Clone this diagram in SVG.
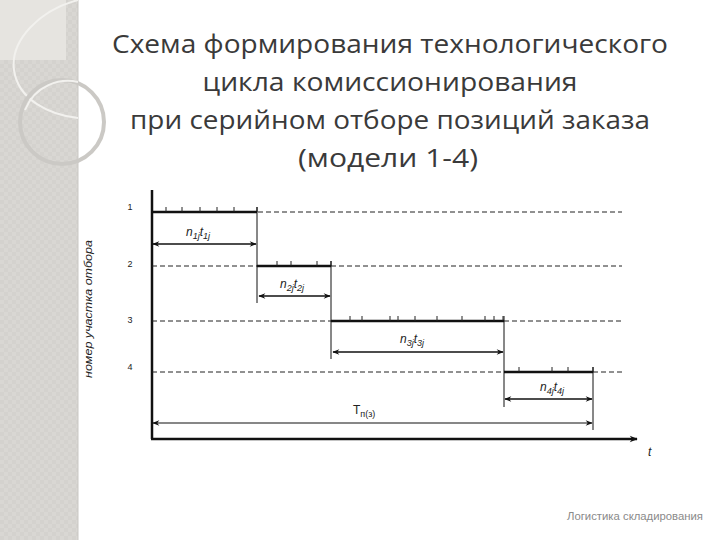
<svg xmlns="http://www.w3.org/2000/svg" width="720" height="540" viewBox="0 0 720 540">
<defs>
<style>
.title{font-family:"Open Sans","Liberation Sans",sans-serif;font-size:26px;fill:#3a3a3a;text-anchor:middle}
.lvl{font-family:"Liberation Sans",sans-serif;font-size:9px;fill:#222;text-anchor:middle}
.lab{font-family:"Liberation Sans",sans-serif;font-size:12px;font-style:italic;fill:#222}
.sub{font-size:9px}
.bold{stroke:#111;stroke-width:2.5;fill:none}
.thin{stroke:#111;stroke-width:1;fill:none}
.dash{stroke:#222;stroke-width:1;stroke-dasharray:5,3;fill:none}
.dim{stroke:#111;stroke-width:1.6;fill:none;marker-start:url(#as);marker-end:url(#ae)}
.tick{stroke:#222;stroke-width:1;fill:none}
</style>
<marker id="ae" viewBox="0 0 10 10" refX="9" refY="5" markerWidth="9" markerHeight="7" markerUnits="userSpaceOnUse" orient="auto"><path d="M0,1 L10,5 L0,9 L3,5 Z" fill="#111"/></marker>
<marker id="as" viewBox="0 0 10 10" refX="1" refY="5" markerWidth="9" markerHeight="7" markerUnits="userSpaceOnUse" orient="auto"><path d="M10,1 L0,5 L10,9 L7,5 Z" fill="#111"/></marker>
<marker id="ax" viewBox="0 0 10 10" refX="9" refY="5" markerWidth="10" markerHeight="8" markerUnits="userSpaceOnUse" orient="auto"><path d="M0,1 L10,5 L0,9 L3,5 Z" fill="#111"/></marker>
<pattern id="tex" width="8" height="8" patternUnits="userSpaceOnUse"><rect width="8" height="8" fill="#d9d7d3"/><rect width="4" height="4" fill="#d4d2ce"/><rect x="4" y="4" width="4" height="4" fill="#d4d2ce"/></pattern>
</defs>
<rect width="720" height="540" fill="#ffffff"/>
<g id="sidebar">
<rect x="0" y="0" width="78" height="540" fill="url(#tex)"/>
<rect x="0" y="0" width="66" height="60" fill="#e6e4e0"/>
<line x1="78" y1="0" x2="78" y2="540" stroke="#c9c7c3" stroke-width="1"/>
<path d="M78,0 C40,10 10,40 14,70 C18,100 50,115 78,118" fill="none" stroke="#f2f1ee" stroke-width="2"/>
<circle cx="62" cy="122" r="42" fill="none" stroke="#cbc9c5" stroke-width="4"/>
<path d="M25,110 C35,85 60,78 78,82" fill="none" stroke="#f2f1ee" stroke-width="2"/>
</g>
<g id="title">
<text class="title" x="390" y="53" textLength="556" lengthAdjust="spacingAndGlyphs">Схема формирования технологического</text>
<text class="title" x="390" y="91" textLength="375" lengthAdjust="spacingAndGlyphs">цикла комиссионирования</text>
<text class="title" x="390" y="129" textLength="520" lengthAdjust="spacingAndGlyphs">при серийном отборе позиций заказа</text>
<text class="title" x="388" y="167" textLength="180" lengthAdjust="spacingAndGlyphs">(модели 1-4)</text>
</g>
<g id="axes">
<line class="bold" x1="152" y1="190" x2="152" y2="439"/>
<line class="bold" x1="151" y1="439" x2="637" y2="439" marker-end="url(#ax)"/>
<text x="92" y="309" text-anchor="middle" transform="rotate(-90 92 309)" textLength="138" lengthAdjust="spacingAndGlyphs" style="font-family:'Liberation Sans',sans-serif;font-size:11px;font-style:italic;fill:#222">номер участка отбора</text>
<text class="lab" x="648" y="456">t</text>
</g>
<g id="levels">
<text class="lvl" x="130" y="210">1</text>
<text class="lvl" x="130" y="267">2</text>
<text class="lvl" x="130" y="323">3</text>
<text class="lvl" x="130" y="370">4</text>
<line class="dash" x1="258" y1="212" x2="622" y2="212"/>
<line class="dash" x1="152" y1="266" x2="257" y2="266"/>
<line class="dash" x1="331" y1="266" x2="622" y2="266"/>
<line class="dash" x1="152" y1="321" x2="332" y2="321"/>
<line class="dash" x1="504" y1="321" x2="622" y2="321"/>
<line class="dash" x1="152" y1="372" x2="504" y2="372"/>
<line class="dash" x1="593" y1="372" x2="622" y2="372"/>
</g>
<g id="stage1">
<line class="bold" x1="152" y1="212" x2="257" y2="212"/>
<path class="tick" d="M166,212V207M182,212V207M200,212V207M217,212V207M234,212V207M257,212V207"/>
<line class="thin" x1="257" y1="207" x2="257" y2="303"/>
<line class="dim" x1="153" y1="244" x2="256" y2="244"/>
<text class="lab" x="186" y="236">n<tspan class="sub" dy="3">1j</tspan><tspan dy="-3">t</tspan><tspan class="sub" dy="3">1j</tspan></text>
</g>
<g id="stage2">
<line class="bold" x1="257" y1="266" x2="331" y2="266"/>
<path class="tick" d="M277,266V261M291,266V261M317,266V261M331,266V261"/>
<line class="thin" x1="331" y1="261" x2="331" y2="359"/>
<line class="dim" x1="259" y1="296" x2="330" y2="296"/>
<text class="lab" x="280" y="288">n<tspan class="sub" dy="3">2j</tspan><tspan dy="-3">t</tspan><tspan class="sub" dy="3">2j</tspan></text>
</g>
<g id="stage3">
<line class="bold" x1="331" y1="321" x2="504" y2="321"/>
<path class="tick" d="M350,321V316M362,321V316M390,321V316M398,321V316M415,321V316M437,321V316M462,321V316M485,321V316M494,321V316M503,321V316"/>
<line class="thin" x1="504" y1="316" x2="504" y2="407"/>
<line class="dim" x1="333" y1="352" x2="503" y2="352"/>
<text class="lab" x="400" y="343">n<tspan class="sub" dy="3">3j</tspan><tspan dy="-3">t</tspan><tspan class="sub" dy="3">3j</tspan></text>
</g>
<g id="stage4">
<line class="bold" x1="504" y1="372" x2="593" y2="372"/>
<path class="tick" d="M519,372V367M552,372V367M568,372V367M593,372V367"/>
<line class="thin" x1="593" y1="367" x2="593" y2="430"/>
<line class="dim" x1="505" y1="399" x2="592" y2="399"/>
<text class="lab" x="540" y="391">n<tspan class="sub" dy="3">4j</tspan><tspan dy="-3">t</tspan><tspan class="sub" dy="3">4j</tspan></text>
</g>
<g id="total">
<line class="dim" style="stroke-width:1.2" x1="153" y1="423" x2="592" y2="423"/>
<text x="353" y="414" style="font-family:'Liberation Sans',sans-serif;font-size:12px;fill:#222">Т<tspan dy="3" style="font-size:9px">п(з)</tspan></text>
</g>
<g id="footer">
<text x="635" y="520" text-anchor="middle" textLength="136" lengthAdjust="spacingAndGlyphs" style="font-family:'Liberation Sans',sans-serif;font-size:10px;fill:#8a8a8a">Логистика складирования</text>
</g>
</svg>
